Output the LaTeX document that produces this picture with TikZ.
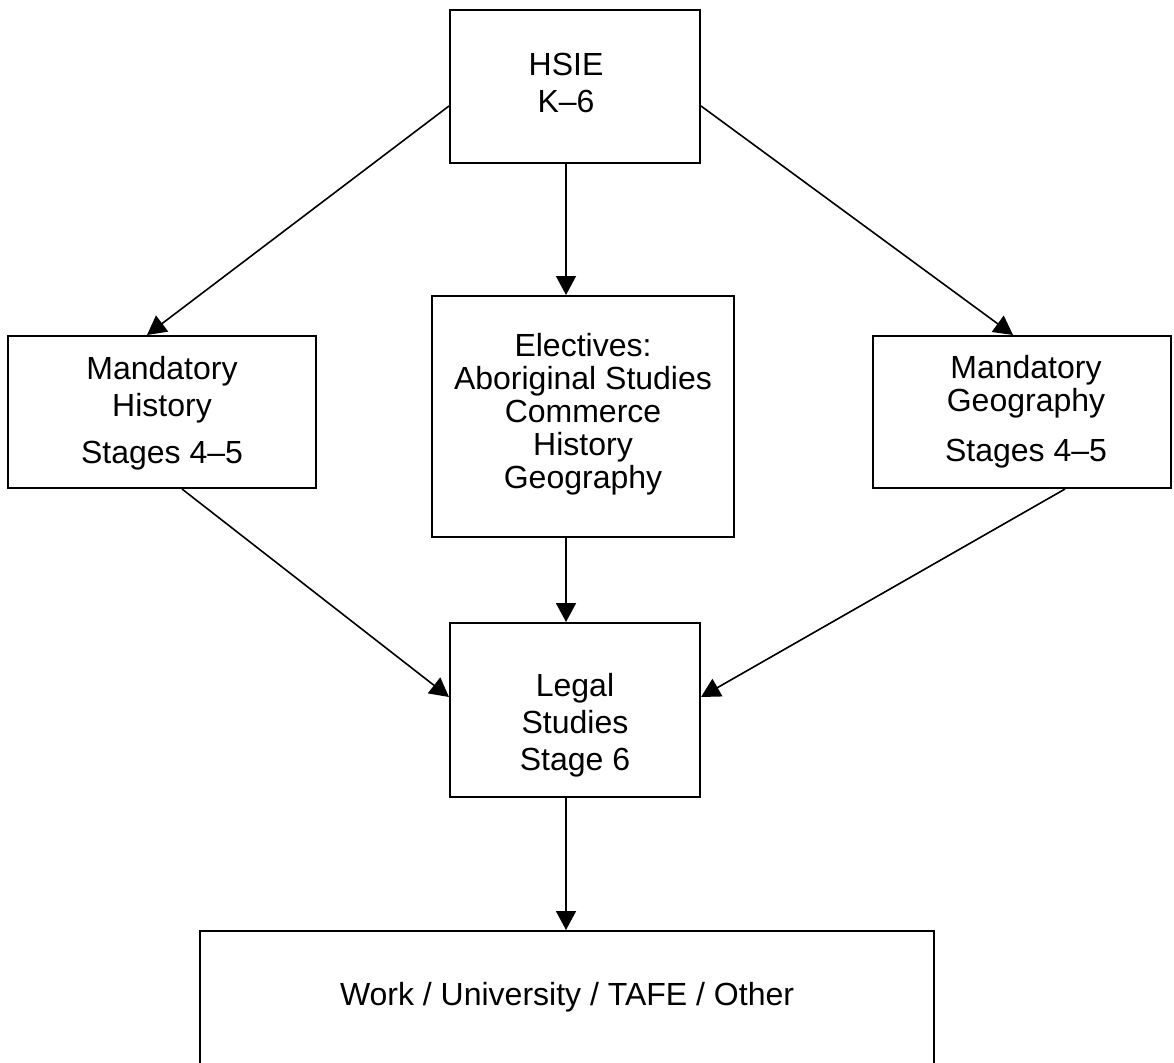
\documentclass[tikz,border=0pt]{standalone}
\usepackage{fontspec}
\setmainfont{Liberation Sans}
\usetikzlibrary{arrows.meta}
\begin{document}
\begin{tikzpicture}[x=1pt,y=-1pt,
  box/.style={draw, line width=2pt, inner sep=0pt},
  lbl/.style={font=\fontsize{32}{37}\selectfont, align=center, inner sep=0pt, anchor=north},
  arr/.style={line width=1.6pt, -{Triangle[length=19pt,width=20pt]}}]
\useasboundingbox (0,0) rectangle (1174,1062);
\clip (0,0) rectangle (1174,1062);
% boxes
\node[box, minimum width=250pt, minimum height=153pt] (hsie) at (575,86.5) {};
\node[box, minimum width=308pt, minimum height=152pt] (hist) at (162,412) {};
\node[box, minimum width=302pt, minimum height=241pt] (elec) at (583,416.5) {};
\node[box, minimum width=298pt, minimum height=152pt] (geo) at (1022,412) {};
\node[box, minimum width=250pt, minimum height=174pt] (legal) at (575,710) {};
\node[box, minimum width=734pt, minimum height=200pt] (work) at (567,1031) {};
% labels
\node[lbl] (thsie) at (566,53) {HSIE\\K–6};
\node[lbl] (thist) at (162,356) {Mandatory\\History\\[10pt]Stages 4–5};
\node[lbl, font=\fontsize{32}{33}\selectfont] (telec) at (583,333) {Electives:\\Aboriginal Studies\\Commerce\\History\\Geography};
\node[lbl, font=\fontsize{32}{33}\selectfont] (tgeo) at (1026,355) {Mandatory\\Geography\\[17pt]Stages 4–5};
\node[lbl] (tlegal) at (575,673) {Legal\\Studies\\Stage 6};
\node[lbl, anchor=base] (twork) at (567,1005) {Work / University / TAFE / Other};
% connectors
\draw[arr] ([yshift=-19.5pt]hsie.west) -- ([xshift=-15pt]hist.north);
\draw[arr] ([yshift=-19.5pt]hsie.east) -- ([xshift=-9pt]geo.north);
\draw[arr] ([xshift=-9pt]hsie.south) -- ([xshift=-17pt]elec.north);
\draw[arr] ([xshift=20pt]hist.south) -- ([yshift=13pt]legal.west);
\draw[arr] ([xshift=43pt]geo.south) -- ([yshift=13pt]legal.east);
\draw[arr] ([xshift=-17pt]elec.south) -- ([xshift=-9pt]legal.north);
\draw[arr] ([xshift=-9pt]legal.south) -- ([xshift=-1pt]work.north);
\end{tikzpicture}
\end{document}
